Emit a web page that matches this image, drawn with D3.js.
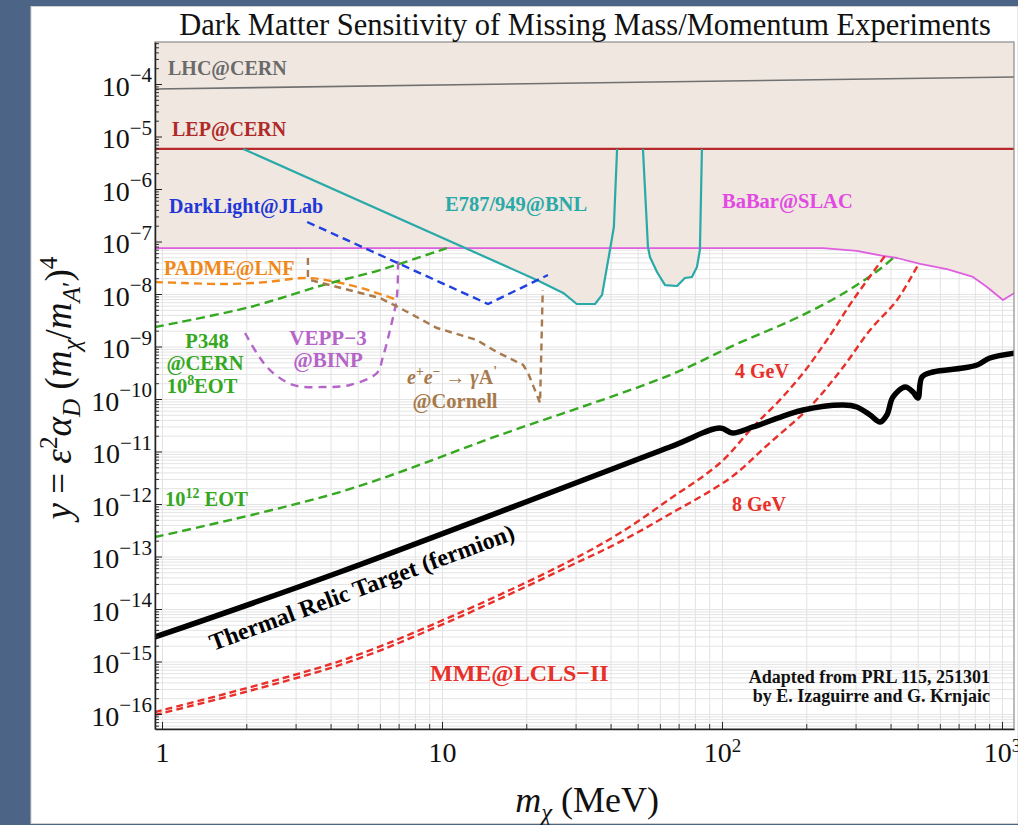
<!DOCTYPE html>
<html>
<head>
<meta charset="utf-8">
<script src="https://cdn.jsdelivr.net/npm/d3@7"></script>
<style>
  html, body { margin: 0; padding: 0; background: #4a6283; }
  svg { display: block; }
</style>
</head>
<body>
<div id="chart"></div>
<script>
// ---- data (mass in MeV, y = eps^2 alpha_D (m_chi/m_A')^4) ----
const xTicks = [1, 10, 100, 1000];
const yTickExps = [-4, -5, -6, -7, -8, -9, -10, -11, -12, -13, -14, -15, -16];

const lhc = [[0.9, 8.0e-5], [1110, 1.36e-4]];
const lep = [[0.9, 5.8e-6], [1110, 5.8e-6]];
const babar = [[0.9, 7.5e-8], [230, 7.5e-8], [303, 6.6e-8], [376, 5.3e-8], [422, 4.85e-8], [510, 3.73e-8],
  [636, 2.99e-8], [788, 2.11e-8], [884, 1.36e-8], [1008, 7.7e-9], [1110, 1.05e-8]];
const e787a = [[1.95, 5.8e-6], [21.8, 1.85e-8], [27.1, 1.05e-8], [30.3, 6.45e-9], [35.2, 6.45e-9],
  [37.3, 9.6e-9], [39.8, 6.9e-8], [41.1, 1.89e-7], [42.2, 5.8e-6]];
const e787b = [[52.2, 5.8e-6], [54.4, 7.85e-8], [55.3, 5.07e-8], [58.6, 2.62e-8], [62.6, 1.48e-8],
  [69.1, 1.42e-8], [73.7, 2.02e-8], [78.1, 2.11e-8], [81.4, 3.27e-8], [83.4, 6.9e-8], [84.8, 5.8e-6]];
const darkLight = [[3.3, 2.35e-7], [14.6, 6.45e-9], [23.9, 2.3e-8]];
const padme = [[0.944, 1.69e-8], [1.19, 1.62e-8], [1.71, 1.55e-8], [2.37, 1.69e-8], [3.3, 2.02e-8],
  [4.69, 1.48e-8], [6.15, 9.6e-9], [6.9, 7.7e-9]];
const vepp = [[1.98, 1.81e-9], [2.18, 7.5e-10], [2.43, 3.56e-10], [2.94, 1.85e-10], [3.76, 1.69e-10],
  [4.69, 1.85e-10], [5.86, 3.13e-10], [6.15, 6.3e-10], [6.52, 2.06e-9], [6.9, 8.8e-9], [6.96, 4.44e-8]];
const cornell = [[3.32, 4.85e-8], [3.32, 2.02e-8], [3.38, 1.85e-8], [6.0, 8.4e-9], [7.08, 5.4e-9],
  [9.6, 2.25e-9], [13.3, 1.33e-9], [15.7, 7.85e-10], [19.5, 4.44e-10], [20.3, 3.13e-10],
  [22.4, 8.4e-11], [22.9, 1.19e-8]];
const p348 = [[0.944, 2.35e-9], [2.06, 5.65e-9], [3.76, 1.48e-8], [6.0, 2.86e-8], [10.4, 7.5e-8]];
const eot12 = [[0.944, 2.35e-13], [4.32, 1.69e-12], [16.1, 2.06e-11], [65.2, 2.86e-10], [113, 1.12e-9],
  [175, 3.06e-9], [247, 7.7e-9], [311, 1.62e-8], [367, 2.99e-8], [408, 4.85e-8]];
const mme4 = [[0.944, 1.09e-16], [4.32, 1.02e-15], [10.7, 7.05e-15], [28.6, 8.2e-14], [43.2, 2.8e-13],
  [65.2, 1.25e-12], [98.4, 6.04e-12], [129, 2.93e-11], [161, 9.6e-11], [195, 3.13e-10],
  [237, 1.33e-9], [294, 7.7e-9], [382, 5.3e-8]];
const mme8 = [[0.944, 9.6e-17], [4.32, 8.6e-16], [10.7, 5.9e-15], [28.6, 6.6e-14], [43.2, 1.9e-13],
  [65.2, 6.45e-13], [107, 3.13e-12], [148, 1.45e-11], [206, 7.05e-11], [271, 4.07e-10],
  [338, 2.06e-9], [422, 7.7e-9], [501, 3.56e-8]];
const relic = [[0.944, 2.93e-15], [4.32, 5.07e-14], [65.2, 1.22e-11], [98.4, 2.8e-11], [109, 2.25e-11],
  [129, 2.93e-11], [195, 6.17e-11], [271, 7.7e-11], [303, 7.05e-11], [338, 4.96e-11], [367, 3.65e-11],
  [388, 4.96e-11], [408, 1.09e-10], [451, 1.69e-10], [481, 1.36e-10], [501, 1.04e-10], [518, 2.62e-10],
  [567, 3.27e-10], [726, 3.89e-10], [815, 4.44e-10], [906, 6.04e-10], [1110, 7.5e-10]];

// ---- layout ----
const W = 1018, H = 825;
const plot = { left: 155, top: 42, right: 1014, bottom: 729 };
const innerW = plot.right - plot.left;
const innerH = plot.bottom - plot.top;
const serif = "'Liberation Serif', 'Times New Roman', 'DejaVu Serif', serif";

const x = d3.scaleLog().domain([0.944, 1104]).range([plot.left, plot.right]);
const y = d3.scaleLog().domain([5.18e-17, 6.31e-4]).range([plot.bottom, plot.top]);

const svg = d3.select('#chart').append('svg')
  .attr('width', W).attr('height', H)
  .style('font-family', serif);

svg.append('rect').attr('width', W).attr('height', H).attr('fill', '#4c6587');
svg.append('rect')
  .attr('x', 31).attr('y', 6.5).attr('width', W - 31).attr('height', 817)
  .attr('fill', '#ffffff').attr('stroke', '#cfcfcf');

// tick value lists
const gridX = [], minorX = [];
for (let e = -1; e <= 3; e++) for (let k = 1; k <= 9; k++) {
  const v = k * Math.pow(10, e);
  if (v >= 0.944 && v <= 1104) { gridX.push(v); if (k > 1) minorX.push(v); }
}
const gridY = [], minorY = [];
for (let e = -17; e <= -4; e++) for (let k = 1; k <= 9; k++) {
  const v = k * Math.pow(10, e);
  if (v >= 5.18e-17 && v <= 6.31e-4) { gridY.push(v); if (k > 1) minorY.push(v); }
}
const yTicks = yTickExps.map(e => Math.pow(10, e));

// grid
svg.append('g')
  .attr('transform', `translate(0,${plot.bottom})`)
  .call(d3.axisBottom(x).tickValues(gridX).tickSize(-innerH).tickFormat(''))
  .call(g => g.select('.domain').remove())
  .call(g => g.selectAll('.tick line').attr('stroke', '#e2e2e2'));
svg.append('g')
  .attr('transform', `translate(${plot.left},0)`)
  .call(d3.axisLeft(y).tickValues(gridY).tickSize(-innerW).tickFormat(''))
  .call(g => g.select('.domain').remove())
  .call(g => g.selectAll('.tick line').attr('stroke', '#e4e4e4'));

// clip
svg.append('clipPath').attr('id', 'clip')
  .append('rect').attr('x', plot.left).attr('y', plot.top).attr('width', innerW).attr('height', innerH);
const g = svg.append('g').attr('clip-path', 'url(#clip)');

const beige = '#efe7e0';
const line = d3.line().x(d => x(d[0])).y(d => y(d[1]));
const smooth = d3.line().x(d => x(d[0])).y(d => y(d[1])).curve(d3.curveCatmullRom);

// excluded regions
g.append('path').datum(babar)
  .attr('d', d3.area().x(d => x(d[0])).y0(plot.top).y1(d => y(d[1])))
  .attr('fill', beige);
g.append('path').attr('d', line(e787a) + 'Z').attr('fill', beige);
g.append('path').attr('d', line(e787b) + 'Z').attr('fill', beige);

// solid limit lines
const solid = (data, color, w, gen) => g.append('path').datum(data)
  .attr('d', gen || line).attr('fill', 'none').attr('stroke', color)
  .attr('stroke-width', w).attr('stroke-linejoin', 'round');
solid(lhc, '#707070', 1.6);
solid(lep, '#b5292b', 2.4);
solid(babar, '#e05ee0', 1.8);
solid(e787a, '#2aa9a9', 2.2);
solid(e787b, '#2aa9a9', 2.2);

// projected (dashed) lines
const dashed = (data, color, dash, gen) => g.append('path').datum(data)
  .attr('d', gen || smooth).attr('fill', 'none').attr('stroke', color)
  .attr('stroke-width', 2.4).attr('stroke-dasharray', dash);
dashed(padme, '#f28a1c', '8 5');
dashed(p348, '#34a81f', '9 5');
dashed(eot12, '#34a81f', '9 5');
dashed(vepp, '#b565c8', '8 6');
dashed(cornell, '#a67a4c', '7 5', line);
dashed(darkLight, '#2040e0', '8 5', line);
dashed(mme4, '#e8302a', '7 4');
dashed(mme8, '#e8302a', '7 4');

solid(relic, '#000000', 5.5, smooth).attr('stroke-linecap', 'butt');

// frame
svg.append('rect')
  .attr('x', plot.left).attr('y', plot.top).attr('width', innerW).attr('height', innerH)
  .attr('fill', 'none').attr('stroke', '#8c8c8c').attr('stroke-width', 1.2);

// rich text helper: parts = [{t, sup, sub, it}]
function rich(sel, parts, size, raise = 0.38, ratio = 0.68) {
  let shift = 0;
  for (const p of parts) {
    const target = p.sup ? -raise * size : p.sub ? 0.24 * size : 0;
    const ts = sel.append('tspan').attr('dy', (target - shift).toFixed(1)).text(p.t);
    if (p.sup || p.sub) ts.attr('font-size', (size * ratio).toFixed(1));
    if (p.it) ts.attr('font-style', 'italic');
    shift = target;
  }
  return sel;
}

// y axis
svg.append('g').attr('transform', `translate(${plot.left},0)`)
  .call(d3.axisLeft(y).tickValues(minorY).tickSize(-4).tickFormat(''))
  .call(a => a.select('.domain').remove())
  .call(a => a.selectAll('.tick line').attr('stroke', '#333'));
const yMajor = svg.append('g').attr('transform', `translate(${plot.left},0)`)
  .call(d3.axisLeft(y).tickValues(yTicks).tickSize(-7).tickSizeOuter(0).tickFormat(''));
yMajor.select('.domain').attr('stroke', '#222').attr('stroke-width', 1.5);
yMajor.selectAll('.tick line').attr('stroke', '#222');
yMajor.selectAll('.tick text').each(function (d, i) {
  const t = d3.select(this)
    .attr('x', -3).attr('y', 11).attr('dy', null)
    .attr('fill', '#111').attr('font-size', 28).attr('font-family', serif);
  rich(t, [{ t: '10' }, { t: '−' + Math.abs(yTickExps[i]), sup: true }], 28, 0.47, 0.75);
});

// x axis
svg.append('g').attr('transform', `translate(0,${plot.bottom})`)
  .call(d3.axisBottom(x).tickValues(minorX).tickSize(-5).tickFormat(''))
  .call(a => a.select('.domain').remove())
  .call(a => a.selectAll('.tick line').attr('stroke', '#333'));
const xMajor = svg.append('g').attr('transform', `translate(0,${plot.bottom})`)
  .call(d3.axisBottom(x).tickValues(xTicks).tickSize(-7).tickSizeOuter(0).tickFormat(''));
xMajor.select('.domain').attr('stroke', '#222').attr('stroke-width', 1.5);
xMajor.selectAll('.tick line').attr('stroke', '#222');
xMajor.selectAll('.tick text').each(function (d) {
  const t = d3.select(this)
    .attr('y', 33).attr('dy', null)
    .attr('fill', '#111').attr('font-size', 28).attr('font-family', serif);
  const e = Math.round(Math.log10(d));
  if (e < 2) t.text(String(d));
  else rich(t, [{ t: '10' }, { t: String(e), sup: true }], 28, 0.36, 0.68);
});

// titles
svg.append('text').attr('x', 585).attr('y', 35).attr('text-anchor', 'middle')
  .attr('font-size', 30.5).attr('fill', '#111')
  .text('Dark Matter Sensitivity of Missing Mass/Momentum Experiments');

rich(svg.append('text').attr('x', 587).attr('y', 812).attr('text-anchor', 'middle')
  .attr('font-size', 36).attr('fill', '#111'),
  [{ t: 'm', it: true }, { t: 'χ', sub: true, it: true }, { t: ' (MeV)' }], 36);

rich(svg.append('text').attr('transform', 'translate(71,388) rotate(-90)').attr('text-anchor', 'middle')
  .attr('font-size', 37).attr('fill', '#111'),
  [{ t: 'y', it: true }, { t: ' = ' }, { t: 'ε', it: true }, { t: '2', sup: true }, { t: 'α', it: true },
   { t: 'D', sub: true, it: true }, { t: ' (' }, { t: 'm', it: true }, { t: 'χ', sub: true, it: true },
   { t: '/' }, { t: 'm', it: true }, { t: 'A', sub: true, it: true }, { t: '′', sub: true },
   { t: ')' }, { t: '4', sup: true }], 37);

// curve labels
function label(px, py, parts, color, opts = {}) {
  const size = opts.size || 20;
  const t = svg.append('text').attr('x', px).attr('y', py)
    .attr('text-anchor', opts.anchor || 'start')
    .attr('font-size', size).attr('font-weight', 'bold').attr('fill', color);
  if (opts.transform) t.attr('transform', opts.transform);
  return rich(t, typeof parts === 'string' ? [{ t: parts }] : parts, size);
}
label(168, 75, 'LHC@CERN', '#6a6a6a');
label(172, 136, 'LEP@CERN', '#b02a2a');
label(169, 213, 'DarkLight@JLab', '#2236d8');
label(445, 211, 'E787/949@BNL', '#2aa9a9', { size: 20.5 });
label(722, 208, 'BaBar@SLAC', '#e24ae2', { size: 20.5 });
label(164, 275, 'PADME@LNF', '#f08818');
label(207, 348, 'P348', '#34a81f', { anchor: 'middle', size: 20.5 });
label(205, 370, '@CERN', '#34a81f', { anchor: 'middle', size: 20.5 });
label(202, 393, [{ t: '10' }, { t: '8', sup: true }, { t: 'EOT' }], '#34a81f', { anchor: 'middle', size: 20.5 });
label(165, 506, [{ t: '10' }, { t: '12', sup: true }, { t: ' EOT' }], '#34a81f', { size: 20.5 });
label(328, 345, 'VEPP−3', '#b565c8', { anchor: 'middle', size: 21 });
label(328, 367, '@BINP', '#b565c8', { anchor: 'middle', size: 21 });
label(452, 384, [{ t: 'e', it: true }, { t: '+', sup: true }, { t: 'e', it: true }, { t: '−', sup: true },
  { t: ' → ' }, { t: 'γ', it: true }, { t: 'A' }, { t: '\'', sup: true }], '#a67a4c', { anchor: 'middle' });
label(455, 408, '@Cornell', '#a67a4c', { anchor: 'middle', size: 20.5 });
label(735, 378, '4 GeV', '#e8302a');
label(732, 511, '8 GeV', '#e8302a');
label(430, 681, 'MME@LCLS−II', '#e8302a', { size: 24 });
label(990, 683, 'Adapted from PRL 115, 251301', '#111', { anchor: 'end', size: 18 });
label(990, 702, 'by E. Izaguirre and G. Krnjaic', '#111', { anchor: 'end', size: 18 });
label(0, 0, 'Thermal Relic Target (fermion)', '#000', { size: 24, transform: 'translate(213,651) rotate(-20.3)' });
</script>
</body>
</html>
